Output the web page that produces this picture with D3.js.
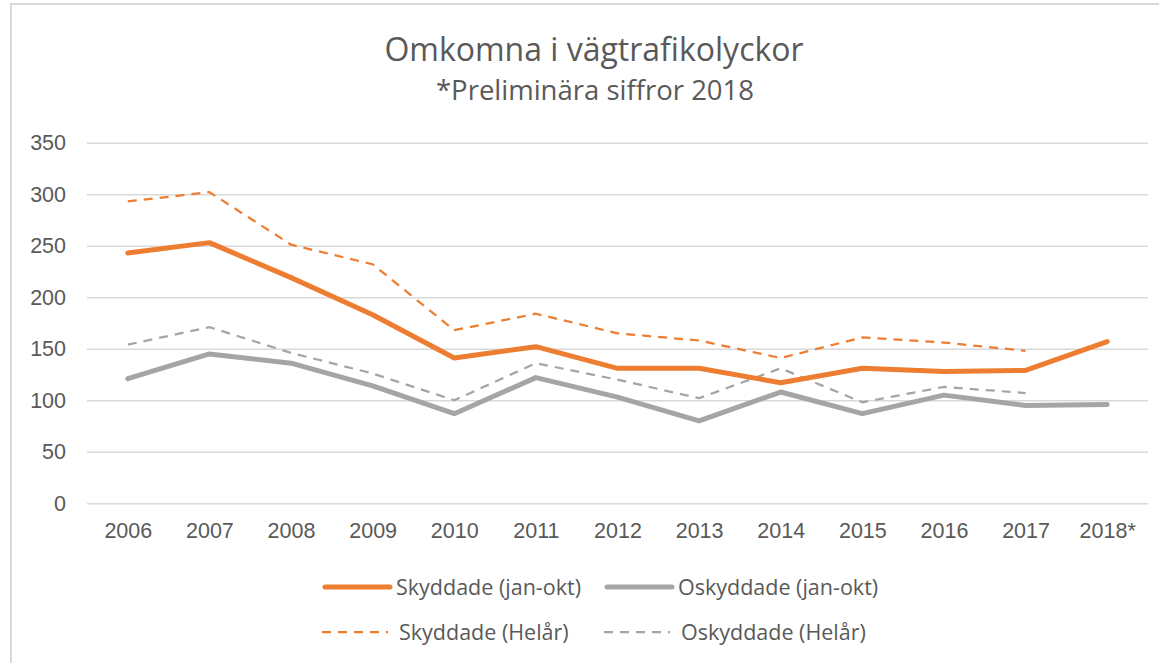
<!DOCTYPE html>
<html>
<head>
<meta charset="utf-8">
<script src="https://cdn.jsdelivr.net/npm/d3@7"></script>
<style>
  html, body { margin: 0; padding: 0; background: #fff; }
  svg { display: block; font-family: "Open Sans", sans-serif; }
  .tick text { fill: #595959; font-size: 21.5px; }
</style>
</head>
<body>
<div id="chart"></div>
<script>
// Omkomna i vägtrafikolyckor
const years = ["2006", "2007", "2008", "2009", "2010", "2011", "2012", "2013", "2014", "2015", "2016", "2017", "2018*"]
const skyddadeJanOkt = [243, 253, 219, 183, 141, 152, 131, 131, 117, 131, 128, 129, 157]
const oskyddadeJanOkt = [121, 145, 136, 114, 87, 122, 103, 80, 108, 87, 105, 95, 96]
const skyddadeHelar = [293, 302, 251, 232, 168, 184, 165, 158, 141, 161, 156, 148, null]
const oskyddadeHelar = [154, 171, 146, 126, 100, 136, 120, 102, 131, 98, 113, 107, null]
const yTicks = [0, 50, 100, 150, 200, 250, 300, 350]

const series = [
  { name: "Skyddade (jan-okt)", values: skyddadeJanOkt, color: "#ED7D31", dashed: false },
  { name: "Oskyddade (jan-okt)", values: oskyddadeJanOkt, color: "#A5A5A5", dashed: false },
  { name: "Skyddade (Helår)", values: skyddadeHelar, color: "#ED7D31", dashed: true },
  { name: "Oskyddade (Helår)", values: oskyddadeHelar, color: "#A5A5A5", dashed: true }
]

const W = 1159, H = 663
const plot = { left: 87, right: 1148, top: 142.7, bottom: 503.3 }

const svg = d3.select("#chart")
  .append("svg")
  .attr("width", W)
  .attr("height", H)

// chart frame (cropped at right and bottom)
svg.append("rect")
  .attr("x", 11)
  .attr("y", 4)
  .attr("width", 1300)
  .attr("height", 800)
  .attr("fill", "none")
  .attr("stroke", "#D9D9D9")
  .attr("stroke-width", 2)

// Titles
svg.append("text")
  .attr("x", 594)
  .attr("y", 61)
  .attr("text-anchor", "middle")
  .attr("fill", "#595959")
  .attr("font-size", "32px")
  .text("Omkomna i vägtrafikolyckor")

svg.append("text")
  .attr("x", 595)
  .attr("y", 100)
  .attr("text-anchor", "middle")
  .attr("fill", "#595959")
  .attr("font-size", "27.5px")
  .text("*Preliminära siffror 2018")

const x = d3.scalePoint()
  .domain(years)
  .range([plot.left, plot.right])
  .padding(0.5)

const y = d3.scaleLinear()
  .domain([0, 350])
  .range([plot.bottom, plot.top])

// Y axis with gridlines
svg.append("g")
  .attr("transform", `translate(${plot.left},0)`)
  .call(d3.axisLeft(y).tickValues(yTicks).tickSize(-(plot.right - plot.left)).tickPadding(21))
  .call(g => g.select(".domain").remove())
  .call(g => g.selectAll(".tick line").attr("stroke", "#D9D9D9").attr("stroke-width", 1.5))

// X axis
svg.append("g")
  .attr("transform", `translate(0,${plot.bottom})`)
  .call(d3.axisBottom(x).tickSize(0).tickPadding(19))
  .call(g => g.select(".domain").remove())

const line = d3.line()
  .defined(d => d != null)
  .x((d, i) => x(years[i]))
  .y(d => y(d))

// draw dashed series first, solid on top
const order = [series[2], series[3], series[0], series[1]]
svg.selectAll(".series")
  .data(order)
  .enter()
  .append("path")
  .attr("class", "series")
  .attr("fill", "none")
  .attr("stroke", d => d.color)
  .attr("stroke-width", d => d.dashed ? 2.25 : 5)
  .attr("stroke-dasharray", d => d.dashed ? "9,7" : null)
  .attr("stroke-linecap", d => d.dashed ? "butt" : "round")
  .attr("stroke-linejoin", "round")
  .attr("d", d => line(d.values))

// Legend
const legendPos = [
  { x: 322, y: 587 }, { x: 604, y: 587 },
  { x: 322, y: 632 }, { x: 604, y: 632 }
]
const legend = svg.selectAll(".legend")
  .data(series)
  .enter()
  .append("g")
  .attr("class", "legend")
  .attr("transform", (d, i) => `translate(${legendPos[i].x},${legendPos[i].y})`)

legend.append("line")
  .attr("x1", d => d.dashed ? 0 : 3)
  .attr("x2", d => d.dashed ? 66 : 68)
  .attr("stroke", d => d.color)
  .attr("stroke-width", d => d.dashed ? 2.25 : 5)
  .attr("stroke-dasharray", d => d.dashed ? "9,7" : null)
  .attr("stroke-linecap", d => d.dashed ? "butt" : "round")

legend.append("text")
  .attr("x", d => d.dashed ? 77 : 74)
  .attr("y", 7.5)
  .attr("fill", "#595959")
  .attr("font-size", "21.5px")
  .text(d => d.name)
</script>
</body>
</html>
